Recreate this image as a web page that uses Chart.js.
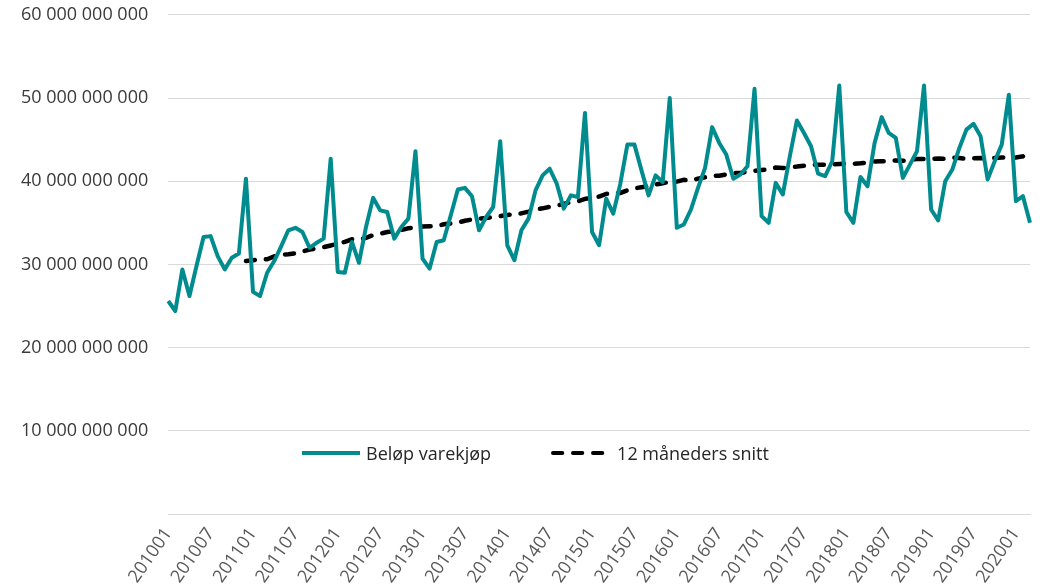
<!DOCTYPE html>
<html>
<head>
<meta charset="utf-8">
<script src="https://cdn.jsdelivr.net/npm/chart.js@4"></script>
<style>
  body { margin: 0; background: #fff; }
  .wrap { position: relative; width: 1040px; height: 587px; }
  #legend { position: absolute; left: 300px; top: 441px; display: flex; font-family: "Open Sans", sans-serif; font-size: 18px; color: #262626; }
  #legend .item { display: flex; align-items: center; margin-right: 60px; }
  #legend svg { margin-right: 6px; }
</style>
</head>
<body>
<div class="wrap">
  <canvas id="chart" width="1040" height="587"></canvas>
  <div id="legend"></div>
</div>
<script>
// Months 201001 - 202003
const months = [];
for (let y = 2010; y <= 2020; y++) {
  for (let m = 1; m <= 12; m++) {
    if (y === 2020 && m > 3) break;
    months.push(`${y}${String(m).padStart(2, '0')}`);
  }
}

// Beløp varekjøp, in billions (mrd. kr)
const purchases = [
  25.6, 24.4, 29.4, 26.2, 29.8, 33.3, 33.4, 31.0, 29.4, 30.8, 31.3, 40.3,
  26.7, 26.2, 29.0, 30.4, 32.2, 34.1, 34.4, 33.9, 32.0, 32.6, 33.1, 42.7,
  29.1, 29.0, 32.7, 30.2, 34.5, 38.0, 36.5, 36.3, 33.1, 34.5, 35.5, 43.6,
  30.7, 29.5, 32.7, 32.9, 35.9, 39.0, 39.2, 38.2, 34.1, 35.7, 36.9, 44.8,
  32.3, 30.5, 34.1, 35.5, 38.9, 40.7, 41.5, 39.7, 36.7, 38.3, 38.1, 48.2,
  33.9, 32.3, 37.9, 36.1, 39.7, 44.4, 44.4, 41.3, 38.3, 40.7, 39.9, 50.0,
  34.4, 34.8, 36.6, 39.2, 41.6, 46.5, 44.6, 43.2, 40.3, 40.8, 41.8, 51.1,
  35.8, 35.0, 39.8, 38.4, 43.0, 47.3, 45.8, 44.2, 40.9, 40.6, 42.4, 51.5,
  36.3, 35.0, 40.5, 39.4, 44.6, 47.7, 45.8, 45.2, 40.4, 42.0, 43.6, 51.5,
  36.6, 35.3, 40.0, 41.4, 44.0, 46.2, 46.9, 45.4, 40.2, 42.4, 44.4, 50.4,
  37.6, 38.2, 35.0
];

// 12 måneders snitt, in billions (starts 201012)
const average = [
  null, null, null, null, null, null, null, null, null, null, null, 30.41,
  30.50, 30.65, 30.62, 30.97, 31.17, 31.23, 31.32, 31.56, 31.78, 31.93, 32.08, 32.28,
  32.48, 32.71, 33.02, 33.00, 33.19, 33.52, 33.69, 33.89, 33.98, 34.14, 34.34, 34.42,
  34.55, 34.59, 34.59, 34.82, 34.93, 35.02, 35.24, 35.40, 35.48, 35.58, 35.70, 35.80,
  35.93, 36.02, 36.13, 36.35, 36.60, 36.74, 36.93, 37.06, 37.28, 37.49, 37.59, 37.88,
  38.01, 38.16, 38.48, 38.53, 38.59, 38.90, 39.14, 39.28, 39.41, 39.61, 39.76, 39.91,
  39.95, 40.16, 40.05, 40.31, 40.47, 40.64, 40.66, 40.82, 40.98, 40.99, 41.15, 41.24,
  41.36, 41.38, 41.64, 41.58, 41.69, 41.76, 41.86, 41.94, 41.99, 41.98, 42.03, 42.06,
  42.10, 42.10, 42.16, 42.24, 42.38, 42.41, 42.41, 42.49, 42.45, 42.57, 42.67, 42.67,
  42.69, 42.72, 42.68, 42.84, 42.79, 42.67, 42.76, 42.78, 42.76, 42.79, 42.86, 42.77,
  42.85, 43.00, 42.45
];

const yTicks = [0, 10, 20, 30, 40, 50, 60];

const teal = '#008B8E';
const grid = '#d9d9d9';
const font = { family: "'Open Sans', sans-serif", size: 18 };

// Build an html legend from the datasets
const htmlLegend = {
  id: 'htmlLegend',
  afterUpdate(chart) {
    const box = document.getElementById('legend');
    box.innerHTML = '';
    chart.data.datasets.forEach(ds => {
      const item = document.createElement('div');
      item.className = 'item';
      const dash = ds.borderDash ? 'stroke-dasharray="9.3 10.7"' : '';
      item.innerHTML = `<svg width="60" height="10"><line x1="2" y1="5" x2="${ds.borderDash ? 56 : 60}" y2="5" stroke="${ds.borderColor}" stroke-width="4" stroke-linecap="${ds.borderDash ? 'round' : 'butt'}" ${dash}/></svg><span>${ds.label}</span>`;
      box.appendChild(item);
    });
  }
};

new Chart(document.getElementById('chart'), {
  type: 'line',
  data: {
    labels: months,
    datasets: [
      {
        label: 'Beløp varekjøp',
        data: purchases,
        borderColor: teal,
        borderWidth: 4,
        pointRadius: 0,
        tension: 0,
        borderJoinStyle: 'round'
      },
      {
        label: '12 måneders snitt',
        data: average,
        borderColor: '#000000',
        borderWidth: 4.5,
        borderDash: [9, 11],
        borderCapStyle: 'round',
        pointRadius: 0,
        tension: 0
      }
    ]
  },
  options: {
    responsive: false,
    animation: false,
    layout: { padding: { left: 17, right: 10, top: 0, bottom: -2 } },
    plugins: {
      legend: { display: false },
      tooltip: { enabled: false }
    },
    scales: {
      x: {
        offset: false,
        grid: { display: false },
        border: { color: grid, width: 1 },
        ticks: {
          autoSkip: false,
          minRotation: 55,
          maxRotation: 55,
          padding: 2,
          color: '#595959',
          font: font,
          callback: (v, i) => (i % 6 === 0 ? months[i] : null)
        }
      },
      y: {
        min: 0,
        max: 60,
        afterBuildTicks: axis => { axis.ticks = yTicks.map(v => ({ value: v })); },
        grid: { color: grid, lineWidth: 1, drawTicks: true, tickLength: 16, tickColor: 'rgba(0,0,0,0)' },
        border: { display: false },
        ticks: {
          padding: 4,
          color: '#3a3a3a',
          font: font,
          callback: v => (v === 0 ? '' : v + ' 000 000 000')
        }
      }
    }
  },
  plugins: [htmlLegend]
});
</script>
</body>
</html>
